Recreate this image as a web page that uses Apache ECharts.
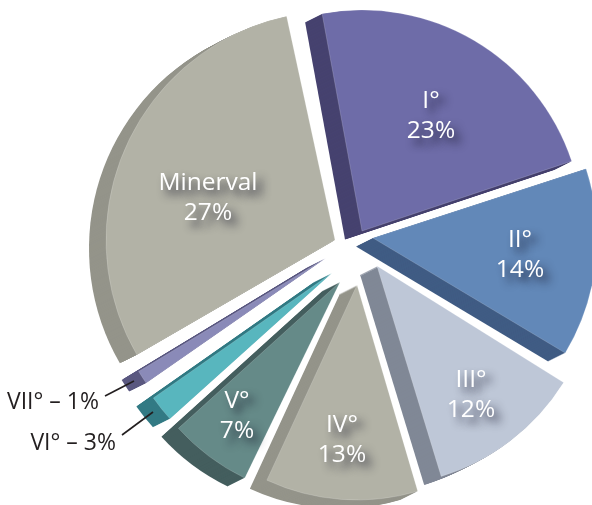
<!DOCTYPE html>
<html><head><meta charset="utf-8">
<style>html,body{margin:0;padding:0;background:#fff}#c{width:592px;height:505px}</style>
<script src="https://cdn.jsdelivr.net/npm/echarts@6/dist/echarts.min.js"></script>
</head><body><div id="c"></div>
<script>
// data
const categories = ['I°','II°','III°','IV°','V°','VI°','VII°','Minerval'];
const shares     = [23,14,12,13,7,3,1,27];
// appearance
const topColors  = ['#6e6ca8','#6288b8','#bec7d7','#b2b2a6','#658a88','#58b6be','#8a8ab8','#b2b2a6'];
const sideColors = ['#46426f','#405c84','#808896','#94948a','#445e5e','#327a84','#5a5880','#94948a'];
// layout of each exploded wedge
const tipX   = [362,373,377,357,340,332,326,335];
const tipY   = [231,238,266,285,282,273,258,240];
const radii  = [221,224,220,215,218,218,219,229];
const startCW = [-10.4,72,122,163.6,205.9,228,235.2,239.9];   // degrees clockwise from 12 o'clock
const sweepScale = [0.99,0.97,0.95,0.88,0.87,0.65,1,1.11];    // the drawing's wedges are not exact
const labelX = [431,520,471,342,237,0,0,208];
const labelY = [116,255,395,440,416,0,0,198];
const outerLabelX = {5:116,6:99};
const outerLabelY = {5:443,6:402};
const leaders = {5:[[122,435],[153,412],[153,412]],6:[[105,396],[134,381],[134,381]]};
const depthX = -17, depthY = 8.5, depthSteps = 17;
const fontFamily = '"Open Sans", sans-serif';

const series = [];
categories.forEach((name,i)=>{
  const start = 90 - startCW[i];
  const end = start - shares[i]*3.6*sweepScale[i];
  const base = {type:'pie',silent:true,animation:false,clockwise:true,avoidLabelOverlap:false,
    radius:[0,radii[i]],startAngle:start,endAngle:end};
  for(let k=depthSteps;k>=1;k--){
    series.push(Object.assign({},base,{
      z:1,
      center:[tipX[i]+depthX*k/depthSteps,tipY[i]+depthY*k/depthSteps],
      label:{show:false},labelLine:{show:false},
      itemStyle:{color:sideColors[i]},
      data:[{name,value:shares[i]}]
    }));
  }
  const outer = leaders[i]!==undefined;
  series.push(Object.assign({},base,{
    z:2,
    center:[tipX[i],tipY[i]],
    itemStyle:{color:topColors[i],borderColor:'rgba(255,255,255,.28)',borderWidth:0.6},
    label: outer ? {show:true,position:'outside',formatter:'{b} – {c}%',color:'#231f20',
        fontFamily,fontSize:23} :
      {show:true,position:'inside',formatter:'{b}\n{c}%',color:'#fff',fontFamily,fontSize:24.5,
        lineHeight:30,align:'center',textShadowColor:'rgba(20,20,40,.85)',textShadowBlur:8,
        textShadowOffsetX:6,textShadowOffsetY:6},
    labelLine: outer ? {show:true,length:10,length2:10,lineStyle:{color:'#231f20',width:1.6}} : {show:false},
    labelLayout: outer ? ()=>({x:outerLabelX[i],y:outerLabelY[i],align:'right',verticalAlign:'middle',
        labelLinePoints:leaders[i]}) :
      ()=>({x:labelX[i],y:labelY[i],align:'center',verticalAlign:'middle'}),
    data:[{name,value:shares[i]}]
  }));
});
const chart = echarts.init(document.getElementById('c'),null,{renderer:'canvas'});
chart.setOption({backgroundColor:'#fff',animation:false,tooltip:{show:false},series});
</script></body></html>
